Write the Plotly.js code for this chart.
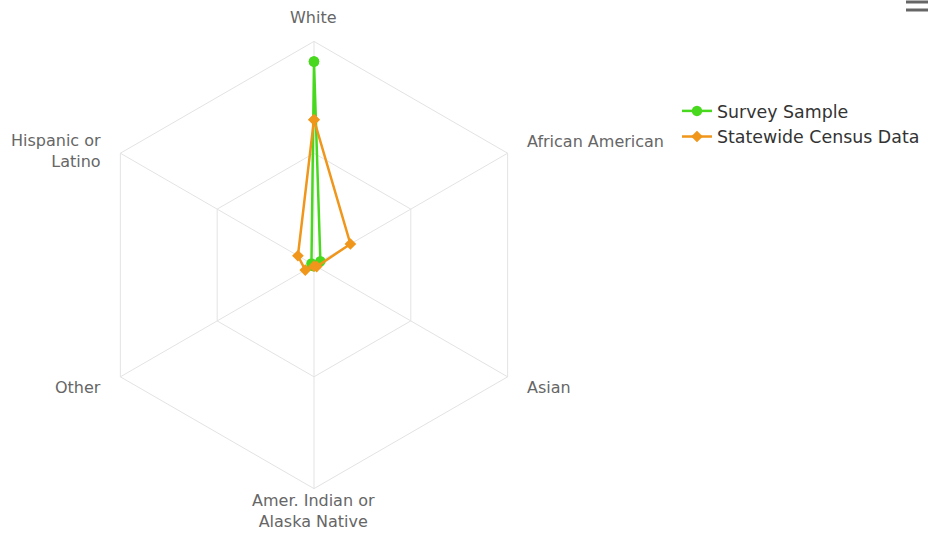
<!DOCTYPE html>
<html><head><meta charset="utf-8">
<script src="https://cdn.plot.ly/plotly-3.0.1.min.js"></script>
<style>html,body{margin:0;padding:0;background:#fff}#chart{width:928px;height:535px}</style>
</head><body><div id="chart"></div>
<script>
const categories = ["White", "African American", "Asian", "Amer. Indian or<br>Alaska Native", "Other", "Hispanic or<br>Latino"];
const surveyName = "Survey Sample";
const surveyValues = [91, 3.3, 0.6, 0.5, 0.8, 1.3];
const censusName = "Statewide Census Data";
const censusValues = [65, 18.8, 1.4, 0.5, 4.5, 8.3];

const W = 928, H = 535;
const closeLoop = a => a.concat([a[0]]);
const font = "'Lucida Grande', 'DejaVu Sans', Verdana, sans-serif";
const domX = [0.0974, 0.5793], domY = [0.0867, 0.9226];

const traces = [
  {type: "scatterpolar", name: surveyName, r: closeLoop(surveyValues), theta: closeLoop(categories),
   mode: "lines+markers", line: {color: "#48d91f", width: 2.5},
   marker: {symbol: "circle", size: 10.5, color: "#48d91f"}, cliponaxis: false},
  {type: "scatterpolar", name: censusName, r: closeLoop(censusValues), theta: closeLoop(categories),
   mode: "lines+markers", line: {color: "#f0961a", width: 2.5},
   marker: {symbol: "diamond", size: 9, color: "#f0961a"}, cliponaxis: false}
];

// category labels placed just outside the hexagon, derived from the polar domain
const cx = (domX[0] + domX[1]) / 2 * W;
const cyTop = H - (domY[0] + domY[1]) / 2 * H;
const R = (domY[1] - domY[0]) * H / 2;
const annotations = categories.map((c, i) => {
  const ang = Math.PI / 2 - i * 2 * Math.PI / categories.length;
  const dx = Math.cos(ang), dy = Math.sin(ang);
  let d = 20, xa = "center", ya = "middle";
  if (Math.abs(dx) < 0.01) { xa = "center"; if (dy > 0) { ya = "bottom"; d = 12; } else { ya = "top"; d = 0; } }
  else { xa = dx > 0 ? "left" : "right"; }
  const lines = c.split("<br>").length;
  const px = cx + (R + d) * dx, py = cyTop - (R + d) * dy;
  return {text: c, x: px / W, y: 1 - py / H, xref: "paper", yref: "paper",
    xanchor: xa, yanchor: ya, showarrow: false, align: xa === "right" ? "right" : (xa === "left" ? "left" : "center"),
    yshift: (ya === "middle") ? (dy > 0 ? 2 : -1) - (lines - 1) * 10 : 0,
    font: {family: font, size: 16, color: "#666"}};
});

const layout = {
  width: W, height: H,
  margin: {l: 0, r: 0, t: 0, b: 0},
  paper_bgcolor: "#fff",
  font: {family: font, color: "#666", size: 12},
  showlegend: true,
  legend: {x: 0.7295, y: 0.826, xanchor: "left", yanchor: "top",
    font: {family: font, size: 17.4, color: "#333"}, bgcolor: "rgba(0,0,0,0)"},
  polar: {
    domain: {x: domX, y: domY},
    gridshape: "linear",
    bgcolor: "#fff",
    radialaxis: {range: [0, 100], tickvals: [50, 100], showticklabels: false, showline: false,
      ticks: "", gridcolor: "#e3e3e3", gridwidth: 1},
    angularaxis: {direction: "clockwise", rotation: 90, linecolor: "#e3e3e3", linewidth: 1,
      gridcolor: "#e3e3e3", ticks: "", showticklabels: false}
  },
  annotations: annotations,
  shapes: [
    {type: "line", xref: "paper", yref: "paper", x0: 906/W, x1: 1, y0: 1 - 2/H, y1: 1 - 2/H, line: {color: "#666", width: 3}},
    {type: "line", xref: "paper", yref: "paper", x0: 906/W, x1: 1, y0: 1 - 10/H, y1: 1 - 10/H, line: {color: "#666", width: 3}}
  ]
};

Plotly.newPlot("chart", traces, layout, {displayModeBar: false, staticPlot: true});
</script></body></html>
